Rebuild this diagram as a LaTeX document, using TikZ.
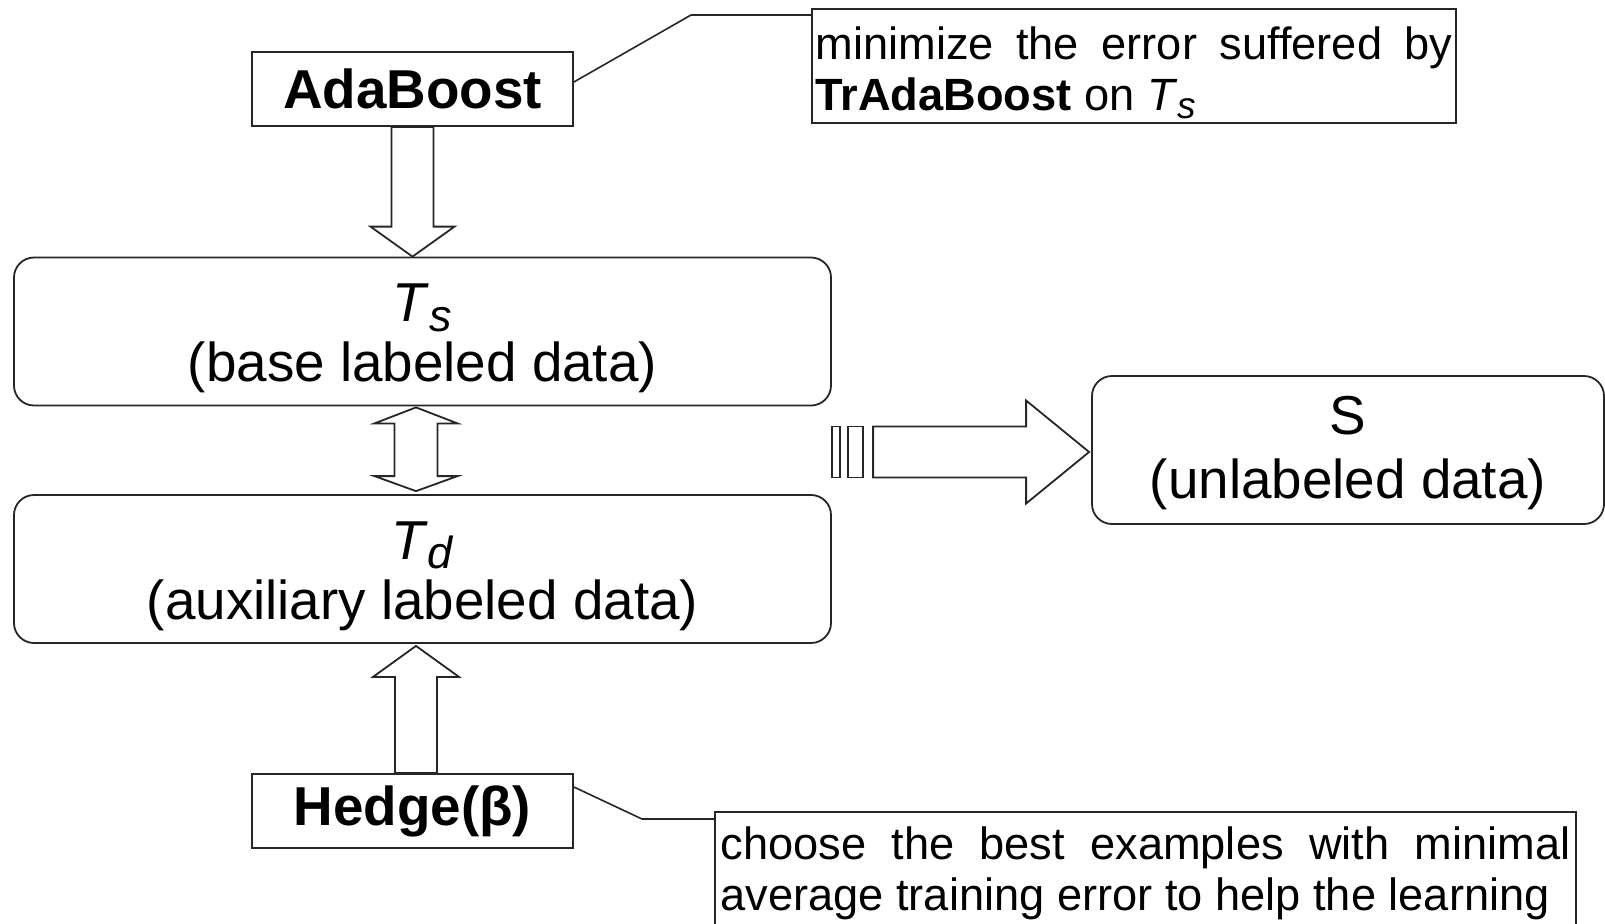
\documentclass[tikz,border=0pt]{standalone}
\usepackage{fontspec}
\setmainfont{Liberation Sans}
\usetikzlibrary{calc}
\definecolor{ink}{HTML}{262626}
\newcommand{\dataset}[2]{\textit{#1}\raisebox{-0.17em}{\scalebox{0.82}{\textit{#2}}}}
\hyphenpenalty=10000
\tolerance=9999

\begin{document}
\begin{tikzpicture}[x=0.5pt,y=-0.5pt,
    bigfont/.style={font=\fontsize{27.4}{30}\selectfont},
    notefont/.style={font=\fontsize{22.6}{25.5}\selectfont},
    algbox/.style={draw=ink,line width=0.9pt,inner sep=0pt,minimum width=160.5pt,minimum height=37pt,bigfont},
    databox/.style={draw=ink,line width=0.9pt,rounded corners=10pt,inner sep=0pt,minimum height=74pt,align=center,bigfont},
    notebox/.style={draw=ink,line width=0.9pt,inner ysep=0pt,align=justify,notefont},
    hollow/.style={draw=ink,line width=0.9pt,fill=white,line join=miter},
    callout/.style={draw=ink,line width=0.8pt}]
  \useasboundingbox (0,0) rectangle (1605,923);
  % boxes
  \node[algbox] (ada) at (412.5,89) {\textbf{AdaBoost}};
  \node[algbox] (hedge) at (412.5,811) {\textbf{Hedge(β)}};
  \node[databox,minimum width=408.5pt] (ts) at (422.5,331.5) {\rule{0pt}{26pt}\dataset{T}{s}\\(base labeled data)};
  \node[databox,minimum width=408.5pt] (td) at (422.5,569) {\rule{0pt}{26pt}\dataset{T}{d}\\(auxiliary labeled data)};
  \node[databox,minimum width=256pt] (unl) at (1348,450) {\rule{0pt}{22pt}S\\[2pt](unlabeled data)};
  \node[notebox,text width=318.5pt,inner xsep=1.75pt,minimum height=57pt] (ntop) at (1134,66)
    {\rule{0pt}{23pt}minimize the error suffered by \textbf{TrAdaBoost} on \dataset{T}{s}};
  \node[notebox,text width=425pt,inner xsep=2.75pt,minimum height=61.5pt] (nbot) at (1145.5,873.5)
    {choose the best examples with minimal average training error to help the learning};
  % AdaBoost down to T_s
  \coordinate (a1) at (ada.south |- ts.north);
  \draw[hollow] ($(ada.south)+(-21,0)$) -- ($(a1)+(-21,-30)$) -- ($(a1)+(-42,-30)$) -- (a1)
    -- ($(a1)+(42,-30)$) -- ($(a1)+(21,-30)$) -- ($(ada.south)+(21,0)$) -- cycle;
  % T_s <-> T_d
  \coordinate (b1) at ($(ts.south)+(-6.5,1)$);
  \coordinate (b2) at ($(td.north)+(-6.5,-3)$);
  \draw[hollow] (b1) -- ++(41.5,16) -- ++(-20,0) -- ($(b2)+(21.5,-15)$) -- ++(20,0) -- (b2)
    -- ++(-41.5,-15) -- ++(20,0) -- ($(b1)+(-21.5,16)$) -- ++(-20,0) -- cycle;
  % Hedge up to T_d
  \coordinate (c1) at ($(td.south)+(-6.5,2)$);
  \draw[hollow] ($(hedge.north)+(-17.5,0)$) -- ($(c1)+(-21,31)$) -- ++(-22,0) -- (c1)
    -- ($(c1)+(43,31)$) -- ++(-22,0) -- ($(hedge.north)+(24.5,0)$) -- cycle;
  % labeled data to S
  \coordinate (d1) at ($(unl.west)+(-2,2)$);
  \draw[hollow] ($(d1)+(-257,-25.5)$) rectangle ($(d1)+(-249,25.5)$);
  \draw[hollow] ($(d1)+(-241,-25.5)$) rectangle ($(d1)+(-226,25.5)$);
  \draw[hollow] ($(d1)+(-216,-25.5)$) -- ($(d1)+(-63,-25.5)$) -- ($(d1)+(-63,-51.5)$) -- (d1)
    -- ($(d1)+(-63,51.5)$) -- ($(d1)+(-63,25.5)$) -- ($(d1)+(-216,25.5)$) -- cycle;
  % callouts
  \coordinate (k1) at (691,15);
  \draw[callout] ($(ada.east)+(0,-7)$) -- (k1) -- (k1 -| ntop.west);
  \coordinate (k2) at (642,819);
  \draw[callout] ($(hedge.east)+(0,-24)$) -- (k2) -- (k2 -| nbot.west);
\end{tikzpicture}
\end{document}
